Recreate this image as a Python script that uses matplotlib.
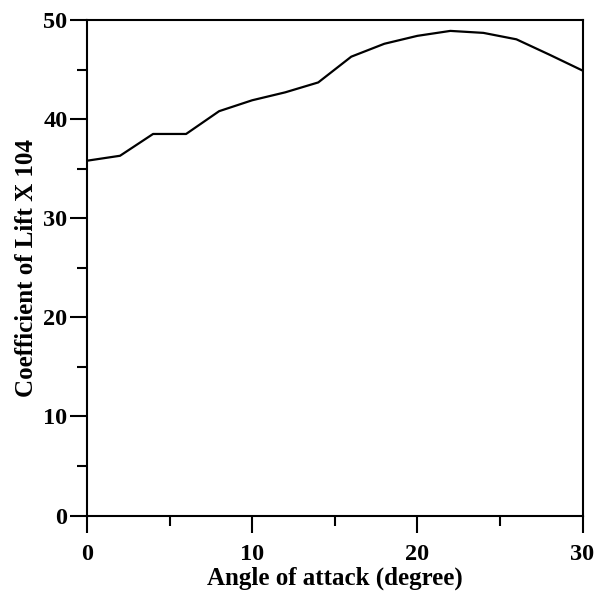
import matplotlib
matplotlib.use("Agg")
import matplotlib.pyplot as plt
from matplotlib.ticker import MultipleLocator

angle = [0, 2, 4, 6, 8, 10, 12, 14, 16, 18, 20, 22, 24, 26, 28, 30]
cl = [35.8, 36.3, 38.5, 38.5, 40.8, 41.9, 42.7, 43.7, 46.3, 47.6, 48.4, 48.9, 48.7, 48.05, 46.5, 44.9]

plt.rcParams['font.family'] = ['Liberation Serif', 'DejaVu Serif']
plt.rcParams['font.weight'] = 'bold'

fig = plt.figure(figsize=(5.95, 5.95), dpi=100)
ax = fig.add_axes([87/595, 1 - 515.5/595, (582.5-87)/595, (515.5-20)/595])
ax.plot(angle, cl, color='black', lw=1.6)
ax.set_xlim(0, 30)
ax.set_ylim(0, 50)
ax.xaxis.set_major_locator(MultipleLocator(10))
ax.xaxis.set_minor_locator(MultipleLocator(5))
ax.yaxis.set_major_locator(MultipleLocator(10))
ax.yaxis.set_minor_locator(MultipleLocator(5))
for s in ax.spines.values():
    s.set_linewidth(1.5)
ax.tick_params(which='major', direction='out', length=12.5, width=1.5, labelsize=17.5)
ax.tick_params(which='minor', direction='out', length=7, width=1.5)
ax.tick_params(axis='x', which='major', pad=8)
ax.tick_params(axis='y', which='major', pad=1.5)
ax.set_xlabel('Angle of attack (degree)', fontsize=18, fontweight='bold', labelpad=1)
ax.set_ylabel('Coefficient of Lift X 104', fontsize=18, fontweight='bold', labelpad=4)
fig.savefig('out.png', dpi=100)
